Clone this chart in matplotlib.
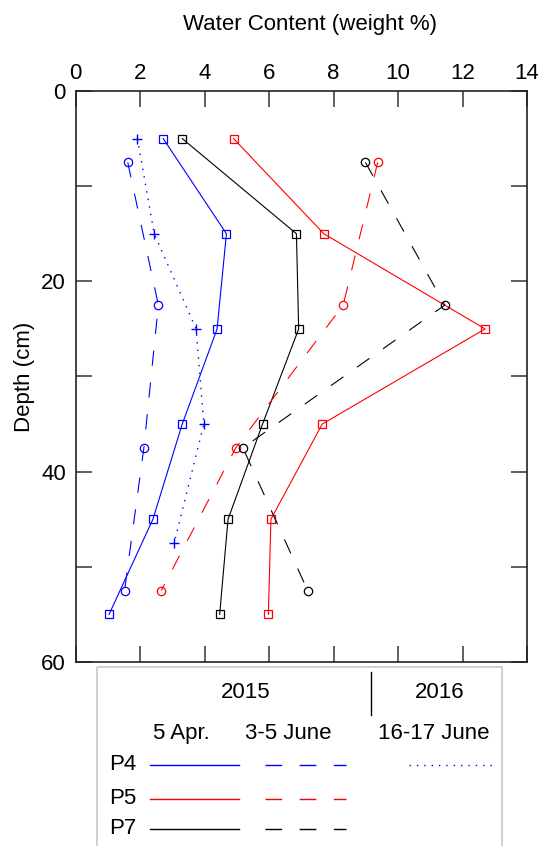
import matplotlib
matplotlib.use("Agg")
import matplotlib.pyplot as plt
from matplotlib.lines import Line2D
from matplotlib.patches import Rectangle

plt.rcParams['font.family'] = ['Liberation Sans', 'DejaVu Sans']
plt.rcParams['font.size'] = 16
plt.rcParams['lines.scale_dashes'] = False

# depths (cm)
depth_apr = [5, 15, 25, 35, 45, 55]
depth_jun = [7.5, 22.5, 37.5, 52.5]
depth_2016 = [5, 15, 25, 35, 47.5]

# water content (weight %)
p4_apr = [2.72, 4.68, 4.39, 3.31, 2.40, 1.04]
p5_apr = [4.90, 7.70, 12.70, 7.65, 6.06, 5.98]
p7_apr = [3.31, 6.85, 6.92, 5.80, 4.73, 4.47]

p4_jun = [1.62, 2.57, 2.12, 1.52]
p5_jun = [9.37, 8.30, 4.97, 2.66]
p7_jun = [8.99, 11.45, 5.19, 7.20]

p4_2016 = [1.92, 2.44, 3.74, 3.98, 3.06]

DASH = (0, (11, 12))
DOT = (0, (1, 4.5))
LW = 0.8

W, H = 538, 846
fig = plt.figure(figsize=(W / 100, H / 100), dpi=100)
ax = fig.add_axes([75.5 / W, 1 - 662 / H, 451.5 / W, 571 / H])

mk = dict(markersize=6, markerfacecolor='none', markeredgewidth=0.9)
ax.plot(p4_apr, depth_apr, color='blue', lw=LW, marker='s', **mk)
ax.plot(p5_apr, depth_apr, color='red', lw=LW, marker='s', **mk)
ax.plot(p7_apr, depth_apr, color='black', lw=LW, marker='s', **mk)
ax.plot(p4_jun, depth_jun, color='blue', lw=LW, ls=DASH, marker='o', **mk)
ax.plot(p5_jun, depth_jun, color='red', lw=LW, ls=DASH, marker='o', **mk)
ax.plot(p7_jun, depth_jun, color='black', lw=LW, ls=DASH, marker='o', **mk)
ax.plot(p4_2016, depth_2016, color='blue', lw=1.0, ls=DOT, marker='+',
        markersize=7, markeredgewidth=1.0)

ax.set_xlim(0, 14)
ax.set_ylim(60, 0)
ax.set_xticks(range(0, 15, 2))
ax.set_yticks(range(0, 61, 20))
ax.set_yticks(range(10, 60, 20), minor=True)
ax.xaxis.tick_top()
ax.xaxis.set_label_position('top')
ax.tick_params(which='both', direction='in', length=11.5, width=1.2,
               color='#444444', top=True, bottom=True, left=True, right=True)
ax.tick_params(axis='x', pad=5)
ax.tick_params(axis='y', pad=7)
for s in ax.spines.values():
    s.set_linewidth(1.2)
    s.set_color('#222222')

ax.set_xlabel('Water Content (weight %)')
ax.xaxis.set_label_coords(0.52, 1.107)
ax.set_ylabel('Depth (cm)', labelpad=4)

# custom legend box below the plot
lg = fig.add_axes([0, 0, 1, 1], facecolor='none')
lg.set_xlim(0, W)
lg.set_ylim(H, 0)
lg.axis('off')
lg.add_patch(Rectangle((97, 667.5), 405, 200, fill=False,
                       edgecolor='#c8c8c8', lw=1.2, clip_on=False))
lg.text(245.5, 692, '2015', ha='center', va='center')
lg.text(440, 692, '2016', ha='center', va='center')
lg.plot([370.7, 370.7], [672, 715], color='black', lw=1.0)
lg.text(181, 733.5, '5 Apr.', ha='center', va='center')
lg.text(288.5, 733.5, '3-5 June', ha='center', va='center')
lg.text(433.5, 733.5, '16-17 June', ha='center', va='center')

rows = [('P4', 'blue', 765.5), ('P5', 'red', 799.5), ('P7', 'black', 829)]
for name, col, yy in rows:
    lg.text(109, yy - 1, name, ha='left', va='center')
    lg.add_line(Line2D([149.5, 238.5], [yy, yy], color=col, lw=1.0))
    lg.add_line(Line2D([264.5, 345.5], [yy, yy], color=col, lw=1.0,
                       ls=(0, (12, 12.6))))
lg.add_line(Line2D([408.5, 494], [765.5, 765.5], color='blue', lw=1.0,
                   ls=(0, (1, 4.3))))

fig.savefig('out.png', dpi=100)
